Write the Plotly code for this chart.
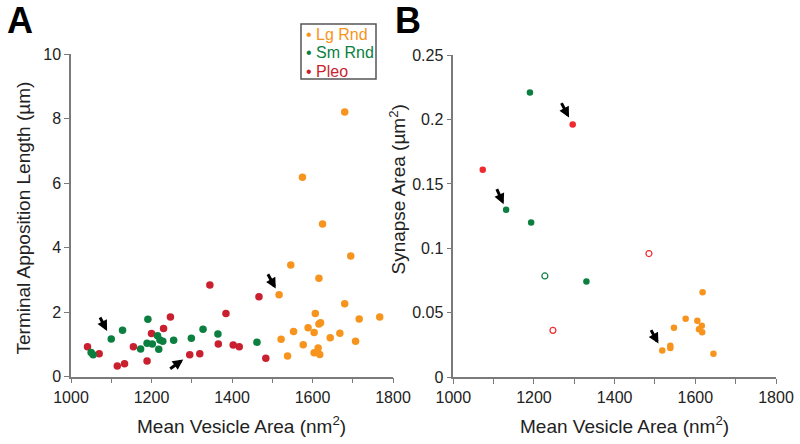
import plotly.graph_objects as go

# ---------------- Data: panel A (Terminal apposition length vs mean vesicle area)
a_lg_x = [1680, 1575, 1625, 1546, 1695, 1616, 1517, 1680, 1607, 1716, 1767, 1589, 1620, 1616,
          1553, 1604, 1668, 1644, 1522, 1707, 1577, 1614, 1604, 1618, 1538]
a_lg_y = [8.20, 6.18, 4.73, 3.46, 3.74, 3.05, 2.54, 2.26, 1.96, 1.79, 1.85, 1.52, 1.67, 1.63,
          1.40, 1.37, 1.35, 1.21, 1.16, 1.10, 0.99, 0.89, 0.74, 0.69, 0.64]
a_sm_x = [1050, 1055, 1100, 1128, 1173, 1191, 1189, 1202, 1215, 1218, 1221, 1228, 1255, 1299,
          1328, 1365, 1462]
a_sm_y = [0.75, 0.68, 1.17, 1.44, 0.86, 1.78, 1.04, 1.01, 1.27, 0.85, 1.14, 1.10, 1.13, 1.19,
          1.47, 1.32, 1.07]
a_pl_x = [1041, 1070, 1115, 1133, 1155, 1189, 1200, 1230, 1247, 1295, 1320, 1345, 1366, 1385,
          1403, 1418, 1467, 1484]
a_pl_y = [0.93, 0.71, 0.33, 0.40, 0.93, 0.49, 1.34, 1.49, 1.85, 0.68, 0.71, 2.84, 1.01, 1.96,
          0.98, 0.93, 2.48, 0.57]

# ---------------- Data: panel B (Synapse area vs mean vesicle area)
b_lg_x = [1618, 1576, 1605, 1547, 1616, 1609, 1617, 1538, 1538, 1518, 1645]
b_lg_y = [0.066, 0.0455, 0.0439, 0.0385, 0.040, 0.0372, 0.0349, 0.0245, 0.0227, 0.0207, 0.0183]
b_sm_x = [1190, 1131, 1193, 1330]
b_sm_y = [0.221, 0.130, 0.120, 0.0744]
b_sm_open_x = [1227]
b_sm_open_y = [0.0786]
b_pl_x = [1296, 1073]
b_pl_y = [0.196, 0.161]
b_pl_open_x = [1485, 1247]
b_pl_open_y = [0.096, 0.0364]

legend_labels = ["Lg Rnd", "Sm Rnd", "Pleo"]
x_ticks = [1000, 1200, 1400, 1600, 1800]
yA_ticks = [0, 2, 4, 6, 8, 10]
yB_ticks = [0, 0.05, 0.1, 0.15, 0.2, 0.25]

ORANGE = "#F7941E"
GREEN = "#0B7F3F"
RED_A = "#C91F2E"
RED_B = "#EE2A2E"
AXC = "#7a7a7a"
FONT = "Liberation Sans, Arial, sans-serif"

W, H = 800, 444

fig = go.Figure()

def sc(x, y, color, xa, ya, size, symbol="circle", name=None):
    fig.add_trace(go.Scatter(
        x=x, y=y, mode="markers", xaxis=xa, yaxis=ya, showlegend=False, name=name,
        cliponaxis=False,
        marker=dict(color=color, size=size, symbol=symbol,
                    line=dict(width=1.2 if "open" in symbol else 0, color=color))))

sc(a_pl_x, a_pl_y, RED_A, "x", "y", 7.5, name="Pleo")
sc(a_sm_x, a_sm_y, GREEN, "x", "y", 7.5, name="Sm Rnd")
sc(a_lg_x, a_lg_y, ORANGE, "x", "y", 7.5, name="Lg Rnd")

sc(b_lg_x, b_lg_y, ORANGE, "x2", "y2", 6.5, name="Lg Rnd")
sc(b_sm_x, b_sm_y, GREEN, "x2", "y2", 6.5, name="Sm Rnd")
sc(b_sm_open_x, b_sm_open_y, GREEN, "x2", "y2", 6, symbol="circle-open")
sc(b_pl_x, b_pl_y, RED_B, "x2", "y2", 6.5, name="Pleo")
sc(b_pl_open_x, b_pl_open_y, RED_B, "x2", "y2", 6, symbol="circle-open")

def px(v):
    return v / W

def py(v):
    return 1 - v / H

axis_common = dict(showline=True, linecolor=AXC, linewidth=1.5, ticks="outside",
                   ticklen=5, tickwidth=1.2, tickcolor=AXC, showgrid=False, zeroline=False,
                   automargin=False,
                   tickfont=dict(family=FONT, size=16, color="#222"), fixedrange=True)

fig.update_layout(
    width=W, height=H, margin=dict(l=0, r=0, t=0, b=0, autoexpand=False),
    paper_bgcolor="white", plot_bgcolor="white",
    font=dict(family=FONT, color="#222"),
    showlegend=False,
    xaxis=dict(domain=[px(71), px(393)], range=[1000, 1800], tickvals=x_ticks,
               minor=dict(dtick=100, tick0=1000, ticks="outside", ticklen=5,
                          tickwidth=1.2, tickcolor=AXC),
               anchor="y", **axis_common),
    yaxis=dict(domain=[py(376.7), py(54)], range=[0, 10], tickvals=yA_ticks,
               anchor="x", **axis_common),
    xaxis2=dict(domain=[px(453.3), px(776)], range=[1000, 1800], tickvals=x_ticks,
                minor=dict(dtick=100, tick0=1000, ticks="outside", ticklen=5,
                           tickwidth=1.2, tickcolor=AXC),
                anchor="y2", **axis_common),
    yaxis2=dict(domain=[py(377.3), py(55)], range=[0, 0.25], tickvals=yB_ticks,
                anchor="x2", **axis_common),
)

ann = []

def txt(text, x, y, size, color="#222", angle=0, xanchor="center"):
    ann.append(dict(text=text, x=px(x), y=py(y), xref="paper", yref="paper",
                    xanchor=xanchor, yanchor="middle", showarrow=False, textangle=angle,
                    font=dict(family=FONT, size=size, color=color)))

# axis titles
txt("Mean Vesicle Area (nm<sup>2</sup>)", 241, 425, 19)
txt("Mean Vesicle Area (nm<sup>2</sup>)", 624, 425, 19)
txt("Terminal Apposition Length (µm)", 22.5, 218, 19, angle=-90)
txt("Synapse Area (µm<sup>2</sup>)", 397.5, 190, 19, angle=-90)
# panel letters
txt("<b>A</b>", 19.5, 21, 36, color="black")
txt("<b>B</b>", 408, 21, 36, color="black")

# legend (panel A)
for label, col, yc in zip(legend_labels, [ORANGE, GREEN, RED_A], [34, 52.5, 71.5]):
    txt("• " + label, 304, yc, 16, color=col, xanchor="left")

# arrows pointing at highlighted terminals
arrows = [
    ("x", "y", a_sm_x[2], a_sm_y[2], -12, -23, 9),
    ("x", "y", a_pl_x[9], a_pl_y[9], -21, 15, 8),
    ("x", "y", a_lg_x[6], a_lg_y[6], -12, -22, 7),
    ("x2", "y2", b_sm_x[1], b_sm_y[1], -10, -22, 6),
    ("x2", "y2", b_pl_x[0], b_pl_y[0], -12, -23, 8),
    ("x2", "y2", b_lg_x[9], b_lg_y[9], -12, -22, 8),
]
for xr, yr, x, y, ax, ay, so in arrows:
    ann.append(dict(x=x, y=y, xref=xr, yref=yr, ax=ax, ay=ay, showarrow=True,
                    arrowhead=2, arrowsize=0.7, arrowwidth=3, arrowcolor="black",
                    standoff=so, text=""))

fig.update_layout(annotations=ann)
fig.add_shape(type="rect", xref="paper", yref="paper", x0=px(301), x1=px(376),
              y0=py(79), y1=py(24), line=dict(color="#555", width=1.5))

fig.write_html("out.html", config={"displayModeBar": False},
               post_script="document.body.style.margin='0';")
